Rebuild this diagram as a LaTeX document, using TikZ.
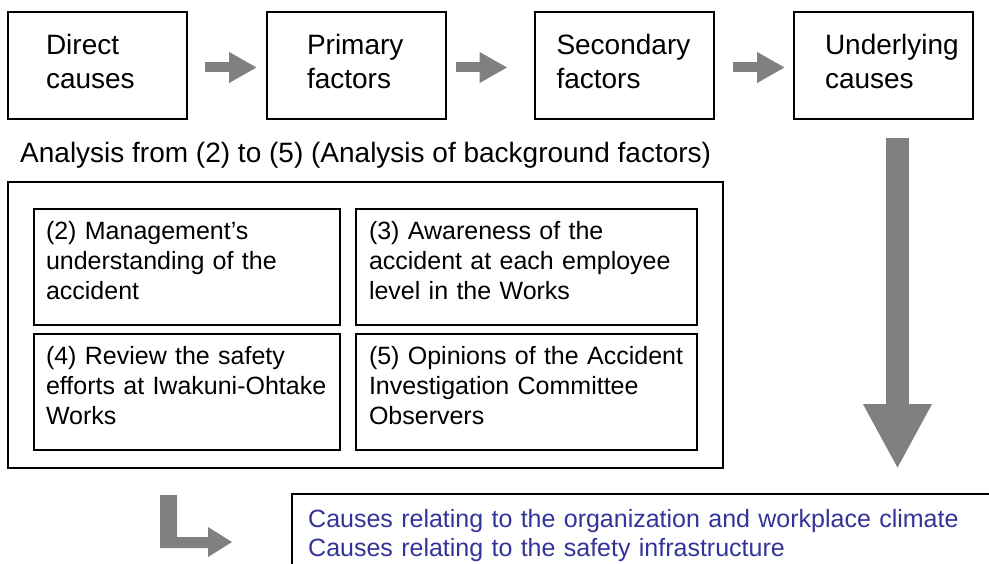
\documentclass[tikz,border=0pt]{standalone}
\usepackage{fontspec}
\setmainfont{Liberation Sans}
\usetikzlibrary{arrows.meta}
\definecolor{arrowGray}{RGB}{128,128,128}
\definecolor{causeBlue}{RGB}{51,51,153}

\begin{document}
\begin{tikzpicture}[x=1pt,y=-1pt,
    causeBox/.style={draw,line width=2pt,minimum width=179pt,minimum height=107pt,inner sep=0pt,
        align=left,font=\fontsize{28pt}{34pt}\selectfont,text height=20pt,text depth=41pt},
    factorBox/.style={draw,line width=2pt,minimum height=116pt,inner sep=0pt,
        align=left,font=\fontsize{25pt}{30pt}\selectfont,text height=18pt,text depth=72pt},
    stepArrow/.style={draw=arrowGray,line width=10pt,-{Triangle[length=28pt,width=29pt]}}]
    \useasboundingbox (0,0) rectangle (989,564);
    % chain of causes
    \node[causeBox,text width=103pt] (direct) at (97.5,65.5) {Direct\\causes};
    \node[causeBox,text width=99pt] (primary) at (356.5,65.5) {Primary\\factors};
    \node[causeBox,text width=135pt] (secondary) at (624,65.5) {Secondary\\factors};
    \node[causeBox,text width=117pt] (underlying) at (883.5,65.5) {Underlying\\causes};
    \draw[stepArrow] ([shift={(17,2)}]direct.east) -- ([shift={(-9,2)}]primary.west);
    \draw[stepArrow] ([shift={(9,2)}]primary.east) -- ([shift={(-26,2)}]secondary.west);
    \draw[stepArrow] ([shift={(18,2)}]secondary.east) -- ([shift={(-8,2)}]underlying.west);
    % background factors
    \node[anchor=base west,inner sep=0pt,font=\fontsize{28pt}{34pt}\selectfont] (heading) at (20,163)
        {Analysis from (2) to (5) (Analysis of background factors)};
    \node[draw,line width=2pt,minimum width=715pt,minimum height=286pt,inner sep=0pt] (background) at (365.5,325) {};
    \node[factorBox,minimum width=306pt,text width=282pt] (mgmt) at (187,267)
        {(2) Management’s\\understanding of the\\accident};
    \node[factorBox,minimum width=341pt,text width=315pt] (aware) at (526.5,267)
        {(3) Awareness of the\\accident at each employee\\level in the Works};
    \node[factorBox,minimum width=306pt,text width=282pt] (review) at (187,392)
        {(4) Review the safety\\efforts at Iwakuni-Ohtake\\Works};
    \node[factorBox,minimum width=341pt,text width=315pt] (opinion) at (526.5,392)
        {(5) Opinions of the Accident\\Investigation Committee\\Observers};
    \draw[arrowGray,line width=23pt,-{Triangle[length=65pt,width=64pt]}]
        ([shift={(14,18)}]underlying.south) -- ([xshift=14pt]underlying.south |- background.south);
    % result
    \fill[arrowGray] (160,495) -- (177,495) -- (177,537) -- (208,537) -- (208,527) -- (232,542)
        -- (208,557) -- (208,548) -- (160,548) -- cycle;
    \node[anchor=north west,inner sep=0pt,align=left,text=causeBlue,text width=670pt,
        font=\fontsize{25pt}{29pt}\selectfont,text height=18pt] (result) at (308,509)
        {Causes relating to the organization and workplace climate\\Causes relating to the safety infrastructure};
    \draw[line width=2pt] (292,564) |- (989,494);
\end{tikzpicture}
\end{document}
